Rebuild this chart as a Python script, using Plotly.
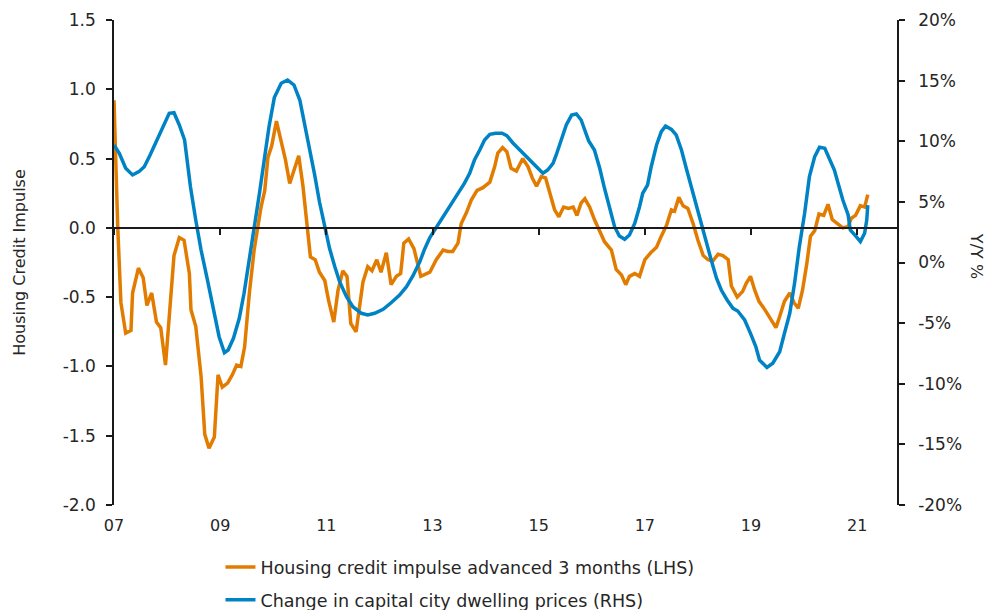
import plotly.graph_objects as go

# ---------------- data ----------------
credit_t = [2007.00, 2007.07, 2007.13, 2007.22, 2007.32, 2007.35, 2007.46, 2007.55, 2007.62, 2007.71,
            2007.80, 2007.88, 2007.97, 2008.04, 2008.13, 2008.23, 2008.32, 2008.42, 2008.45, 2008.54,
            2008.64, 2008.71, 2008.79, 2008.89, 2008.96, 2009.04, 2009.14, 2009.23, 2009.31, 2009.39,
            2009.46, 2009.55, 2009.64, 2009.77, 2009.84, 2009.90, 2009.97, 2010.06, 2010.15, 2010.23,
            2010.31, 2010.39, 2010.48, 2010.56, 2010.62, 2010.70, 2010.79, 2010.87, 2010.97, 2011.04,
            2011.14, 2011.22, 2011.31, 2011.39, 2011.46, 2011.56, 2011.69, 2011.78, 2011.86, 2011.95,
            2012.03, 2012.13, 2012.22, 2012.32, 2012.40, 2012.46, 2012.55, 2012.65, 2012.78, 2012.95,
            2013.07, 2013.20, 2013.29, 2013.38, 2013.48, 2013.54, 2013.64, 2013.73, 2013.84, 2013.95,
            2014.08, 2014.17, 2014.23, 2014.32, 2014.40, 2014.48, 2014.58, 2014.70, 2014.80, 2014.88,
            2014.96, 2015.05, 2015.13, 2015.21, 2015.30, 2015.38, 2015.47, 2015.56, 2015.65, 2015.72,
            2015.80, 2015.87, 2015.96, 2016.05, 2016.15, 2016.24, 2016.37, 2016.46, 2016.56, 2016.64,
            2016.71, 2016.81, 2016.90, 2017.00, 2017.11, 2017.22, 2017.31, 2017.41, 2017.50, 2017.56,
            2017.64, 2017.72, 2017.81, 2017.91, 2018.00, 2018.10, 2018.19, 2018.28, 2018.38, 2018.47,
            2018.57, 2018.63, 2018.74, 2018.84, 2018.91, 2018.99, 2019.07, 2019.15, 2019.26, 2019.35,
            2019.47, 2019.54, 2019.63, 2019.73, 2019.81, 2019.89, 2019.97, 2020.05, 2020.12, 2020.20,
            2020.28, 2020.37, 2020.45, 2020.53, 2020.62, 2020.73, 2020.83, 2020.89, 2020.97, 2021.06,
            2021.14, 2021.20]
credit_impulse = [0.92, 0.01, -0.54, -0.76, -0.74, -0.47, -0.29, -0.36, -0.56, -0.47,
                  -0.68, -0.72, -0.99, -0.66, -0.20, -0.07, -0.09, -0.33, -0.59, -0.71,
                  -1.07, -1.49, -1.59, -1.51, -1.06, -1.15, -1.12, -1.06, -0.99, -1.00,
                  -0.86, -0.47, -0.16, 0.15, 0.27, 0.51, 0.59, 0.77, 0.63, 0.49,
                  0.32, 0.42, 0.52, 0.30, 0.06, -0.21, -0.23, -0.32, -0.38, -0.52,
                  -0.68, -0.45, -0.31, -0.35, -0.69, -0.75, -0.39, -0.28, -0.31, -0.23,
                  -0.32, -0.18, -0.41, -0.35, -0.33, -0.11, -0.08, -0.15, -0.35, -0.32,
                  -0.23, -0.16, -0.17, -0.17, -0.11, 0.03, 0.11, 0.20, 0.27, 0.29,
                  0.33, 0.44, 0.54, 0.58, 0.55, 0.43, 0.41, 0.50, 0.44, 0.36,
                  0.30, 0.37, 0.36, 0.25, 0.13, 0.08, 0.15, 0.14, 0.15, 0.09,
                  0.18, 0.21, 0.15, 0.06, -0.03, -0.10, -0.16, -0.30, -0.34, -0.41,
                  -0.35, -0.33, -0.35, -0.23, -0.18, -0.14, -0.06, 0.02, 0.13, 0.12,
                  0.22, 0.16, 0.14, 0.03, -0.09, -0.20, -0.23, -0.24, -0.19, -0.20,
                  -0.23, -0.42, -0.50, -0.46, -0.40, -0.35, -0.45, -0.53, -0.59, -0.65,
                  -0.72, -0.64, -0.53, -0.47, -0.54, -0.58, -0.45, -0.26, -0.06, -0.02,
                  0.10, 0.09, 0.17, 0.06, 0.03, 0.00, 0.01, 0.07, 0.09, 0.16,
                  0.15, 0.24]

prices_t = [2007.00, 2007.10, 2007.22, 2007.35, 2007.47, 2007.57, 2007.68, 2007.79, 2007.91, 2008.04,
            2008.13, 2008.23, 2008.33, 2008.44, 2008.54, 2008.64, 2008.76, 2008.89, 2008.98, 2009.08,
            2009.15, 2009.25, 2009.36, 2009.45, 2009.55, 2009.64, 2009.74, 2009.83, 2009.92, 2010.02,
            2010.15, 2010.27, 2010.39, 2010.50, 2010.59, 2010.68, 2010.78, 2010.87, 2010.97, 2011.06,
            2011.16, 2011.25, 2011.38, 2011.50, 2011.66, 2011.78, 2011.91, 2012.07, 2012.22, 2012.38,
            2012.51, 2012.63, 2012.76, 2012.85, 2012.95, 2013.06, 2013.17, 2013.26, 2013.38, 2013.50,
            2013.60, 2013.70, 2013.79, 2013.89, 2013.98, 2014.08, 2014.19, 2014.31, 2014.40, 2014.51,
            2014.63, 2014.75, 2014.86, 2014.99, 2015.08, 2015.17, 2015.27, 2015.33, 2015.43, 2015.52,
            2015.62, 2015.71, 2015.80, 2015.94, 2016.05, 2016.15, 2016.24, 2016.34, 2016.43, 2016.52,
            2016.62, 2016.71, 2016.81, 2016.90, 2016.96, 2017.05, 2017.12, 2017.22, 2017.31, 2017.39,
            2017.50, 2017.59, 2017.69, 2017.78, 2017.88, 2017.97, 2018.06, 2018.16, 2018.25, 2018.35,
            2018.44, 2018.55, 2018.66, 2018.75, 2018.88, 2018.99, 2019.09, 2019.16, 2019.30, 2019.41,
            2019.54, 2019.63, 2019.73, 2019.82, 2019.91, 2020.01, 2020.10, 2020.20, 2020.29, 2020.39,
            2020.48, 2020.57, 2020.64, 2020.73, 2020.83, 2020.87, 2020.97, 2021.06, 2021.14, 2021.18,
            2021.20]
dwelling_prices_yy = [9.69, 9.0, 7.77, 7.22, 7.49, 7.9, 8.87, 9.97, 11.07, 12.3,
                      12.35, 11.34, 10.1, 6.25, 3.5, 1.03, -1.44, -4.19, -6.12, -7.44,
                      -7.22, -6.25, -4.6, -2.54, 0.21, 2.95, 5.71, 8.45, 11.2, 13.6,
                      14.78, 15.05, 14.64, 13.4, 11.48, 9.42, 7.22, 5.01, 2.95, 1.17,
                      -0.35, -1.58, -2.82, -3.65, -4.19, -4.33, -4.19, -3.86, -3.32, -2.68,
                      -1.99, -1.11, 0.05, 1.1, 2.05, 2.82, 3.5, 4.19, 5.01, 5.84,
                      6.53, 7.36, 8.45, 9.28, 10.1, 10.57, 10.66, 10.66, 10.46, 9.88,
                      9.34, 8.87, 8.31, 7.71, 7.36, 7.63, 8.18, 8.87, 10.24, 11.34,
                      12.16, 12.25, 11.75, 10.05, 9.28, 7.77, 6.12, 4.47, 2.95, 2.19,
                      1.91, 2.27, 3.23, 4.6, 5.71, 6.39, 7.9, 9.69, 10.79, 11.26,
                      10.98, 10.52, 9.28, 7.77, 6.12, 4.6, 3.09, 1.72, 0.21, -1.3,
                      -2.27, -3.09, -3.78, -4.0, -4.74, -5.84, -6.94, -8.04, -8.65, -8.31,
                      -7.36, -5.84, -4.19, -1.72, 1.3, 4.06, 7.08, 8.73, 9.5, 9.42,
                      8.59, 7.63, 6.53, 5.15, 3.92, 2.68, 2.19, 1.72, 2.41, 3.5,
                      4.74]

year_ticks = [2007, 2009, 2011, 2013, 2015, 2017, 2019, 2021]
year_labels = ["07", "09", "11", "13", "15", "17", "19", "21"]
lhs_ticks = [1.5, 1.0, 0.5, 0.0, -0.5, -1.0, -1.5, -2.0]
lhs_labels = ["1.5", "1.0", "0.5", "0.0", "-0.5", "-1.0", "-1.5", "-2.0"]
rhs_ticks = [20, 15, 10, 5, 0, -5, -10, -15, -20]
rhs_labels = ["20%", "15%", "10%", "5%", "0%", "-5%", "-10%", "-15%", "-20%"]

series_names = ["Housing credit impulse advanced 3 months (LHS)",
                "Change in capital city dwelling prices (RHS)"]

# ---------------- styling ----------------
ORANGE = "#E27C00"
BLUE = "#0083C4"
FONT = "DejaVu Sans"
TXT = "#262626"
AX = "#1a1a1a"
x_range = [2007.0, 2021.75]
lhs_range = [-2.0, 1.5]
rhs_range = [-20, 20]
zero_pos = (0 - lhs_range[0]) / (lhs_range[1] - lhs_range[0])

fig = go.Figure()
fig.add_trace(go.Scatter(x=credit_t, y=credit_impulse, name=series_names[0], mode="lines",
                         line=dict(color=ORANGE, width=3.5), xaxis="x", yaxis="y",
                         legendgroup="a"))
fig.add_trace(go.Scatter(x=prices_t, y=dwelling_prices_yy, name=series_names[1], mode="lines",
                         line=dict(color=BLUE, width=3.5), xaxis="x2", yaxis="y2",
                         legendgroup="b"))

fig.update_layout(
    width=996, height=610,
    margin=dict(l=106, r=107, t=12, b=113, autoexpand=False),
    paper_bgcolor="white", plot_bgcolor="white",
    font=dict(family=FONT, size=16, color=TXT),
    showlegend=True,
    legend=dict(x=0.136, xanchor="left", y=-0.091, yanchor="top",
                orientation="v", traceorder="grouped", tracegroupgap=7,
                font=dict(family=FONT, size=17.5, color=TXT),
                bgcolor="rgba(0,0,0,0)"),
    xaxis=dict(range=x_range, tickvals=year_ticks, ticktext=year_labels,
               showline=False, ticks="", showgrid=False, zeroline=False,
               tickfont=dict(size=16, color=TXT), ticklabelstandoff=9, automargin=False),
    xaxis2=dict(range=x_range, overlaying="x", anchor="free", position=zero_pos,
                tickvals=year_ticks, showticklabels=False, ticks="outside", ticklen=6,
                tickwidth=1.5, tickcolor=AX, showline=True, linecolor=AX, linewidth=1.5,
                showgrid=False, zeroline=False, automargin=False),
    yaxis=dict(range=lhs_range, tickvals=lhs_ticks, ticktext=lhs_labels,
               showline=True, linecolor=AX, linewidth=1.5, ticks="outside", ticklen=6,
               tickwidth=1.5, tickcolor=AX, showgrid=False, zeroline=False,
               tickfont=dict(size=17, color=TXT), ticklabelstandoff=7, automargin=False,
               title=dict(text="Housing Credit Impulse", standoff=33,
                          font=dict(size=16, color=TXT))),
    yaxis2=dict(range=rhs_range, overlaying="y", side="right", anchor="x2",
                tickvals=rhs_ticks, ticktext=rhs_labels,
                showline=True, linecolor=AX, linewidth=1.5, ticks="outside", ticklen=6,
                tickwidth=1.5, tickcolor=AX, showgrid=False, zeroline=False,
                tickfont=dict(size=17, color=TXT), ticklabelstandoff=10, automargin=False),
    annotations=[dict(text="Y/Y %", textangle=90, xref="paper", yref="paper",
                      x=1.116, y=0.513, showarrow=False,
                      font=dict(family=FONT, size=16, color=TXT))],
)

fig.write_html("out.html")
